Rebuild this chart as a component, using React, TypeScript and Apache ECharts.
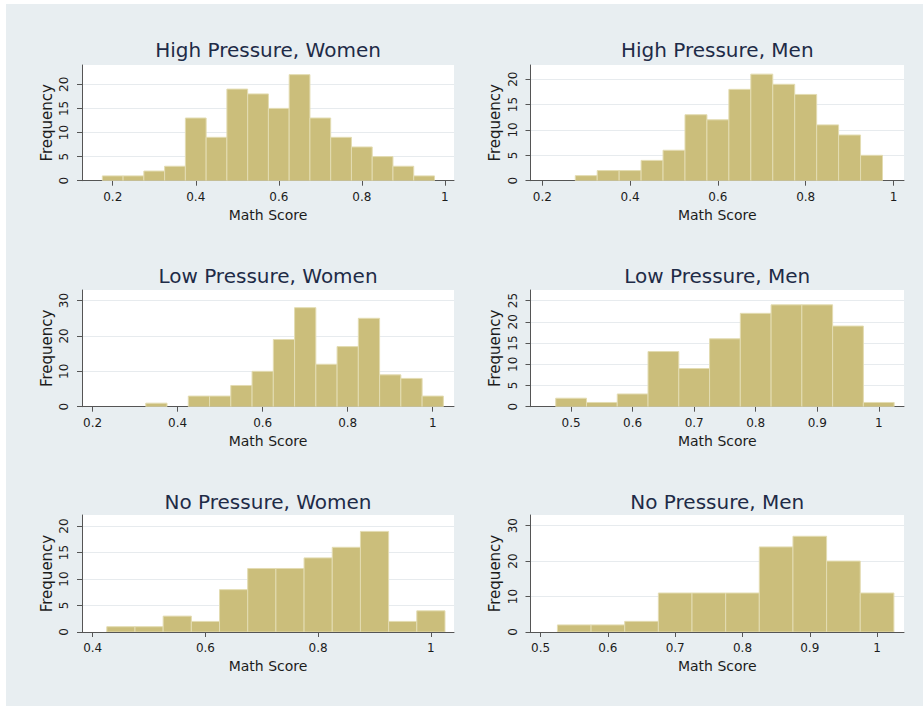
import React, { useEffect, useRef } from "react";
import * as echarts from "echarts";

// ---- data ----
const BIN_WIDTH = 0.05;

const panelTitles = [
  "High Pressure, Women",
  "High Pressure, Men",
  "Low Pressure, Women",
  "Low Pressure, Men",
  "No Pressure, Women",
  "No Pressure, Men",
];

// first bin's lower edge for each panel
const firstBinEdges = [0.175, 0.275, 0.325, 0.475, 0.425, 0.525];

const highPressureWomen = [1, 1, 2, 3, 13, 9, 19, 18, 15, 22, 13, 9, 7, 5, 3, 1];
const highPressureMen = [1, 2, 2, 4, 6, 13, 12, 18, 21, 19, 17, 11, 9, 5];
const lowPressureWomen = [1, 0, 3, 3, 6, 10, 19, 28, 12, 17, 25, 9, 8, 3];
const lowPressureMen = [2, 1, 3, 13, 9, 16, 22, 24, 24, 19, 1];
const noPressureWomen = [1, 1, 3, 2, 8, 12, 12, 14, 16, 19, 2, 4];
const noPressureMen = [2, 2, 3, 11, 11, 11, 24, 27, 20, 11];

const panelCounts = [
  highPressureWomen,
  highPressureMen,
  lowPressureWomen,
  lowPressureMen,
  noPressureWomen,
  noPressureMen,
];

const xTickLabels = [
  [0.2, 0.4, 0.6, 0.8, 1],
  [0.2, 0.4, 0.6, 0.8, 1],
  [0.2, 0.4, 0.6, 0.8, 1],
  [0.5, 0.6, 0.7, 0.8, 0.9, 1],
  [0.4, 0.6, 0.8, 1],
  [0.5, 0.6, 0.7, 0.8, 0.9, 1],
];
const yTickLabels = [
  [0, 5, 10, 15, 20],
  [0, 5, 10, 15, 20],
  [0, 10, 20, 30],
  [0, 5, 10, 15, 20, 25],
  [0, 5, 10, 15, 20],
  [0, 10, 20, 30],
];
const yIntervals = [5, 5, 10, 5, 5, 10];

// axis extents (scale ranges)
const xRanges = [
  [0.126, 1.022],
  [0.173, 1.024],
  [0.175, 1.05],
  [0.434, 1.041],
  [0.381, 1.041],
  [0.485, 1.04],
];
const yMaxes = [24, 22.8, 33, 27.5, 22.1, 33];

// ---- layout ----
const COLS = [
  { left: 82, width: 372 },
  { left: 530.5, width: 373.5 },
];
const ROWS = [
  { top: 65, height: 115.7, titleY: 50 },
  { top: 290, height: 116.7, titleY: 275.5 },
  { top: 515, height: 117, titleY: 502 },
];

const FONT = "DejaVu Sans";
const BAR_FILL = "#cbbe7b";
const BAR_STROKE = "#e3dcb2";
const AXIS_COLOR = "#555555";
const TEXT_COLOR = "#1c1c1c";
const TITLE_COLOR = "#1e2b47";
const BG = "#e8eef1";

export default function App() {
  const ref = useRef<HTMLDivElement>(null);

  useEffect(() => {
    if (!ref.current) return;
    const chart = echarts.init(ref.current, undefined, { renderer: "svg" });

    const grids: any[] = [];
    const xAxes: any[] = [];
    const yAxes: any[] = [];
    const series: any[] = [];
    const graphics: any[] = [
      { type: "rect", shape: { x: 0, y: 0, width: 6, height: 708 }, style: { fill: "#ffffff" }, silent: true },
      { type: "rect", shape: { x: 0, y: 0, width: 923, height: 4 }, style: { fill: "#ffffff" }, silent: true },
      { type: "rect", shape: { x: 0, y: 706, width: 923, height: 2 }, style: { fill: "#ffffff" }, silent: true },
    ];

    for (let i = 0; i < 6; i++) {
      const col = COLS[i % 2];
      const row = ROWS[Math.floor(i / 2)];
      grids.push({
        left: col.left,
        top: row.top,
        width: col.width,
        height: row.height,
        show: true,
        backgroundColor: "#ffffff",
        borderWidth: 0,
      });
      xAxes.push({
        type: "value",
        gridIndex: i,
        min: xRanges[i][0],
        max: xRanges[i][1],
        name: "Math Score",
        nameLocation: "middle",
        nameGap: 27,
        nameTextStyle: { fontFamily: FONT, fontSize: 14, color: TEXT_COLOR },
        axisLine: { show: true, onZero: false, lineStyle: { color: AXIS_COLOR, width: 1 } },
        axisTick: { show: true, length: 5, lineStyle: { color: AXIS_COLOR }, customValues: xTickLabels[i] },
        axisLabel: {
          fontFamily: FONT,
          fontSize: 12,
          color: TEXT_COLOR,
          margin: 10,
          customValues: xTickLabels[i],
        },
        splitLine: { show: false },
      });
      yAxes.push({
        type: "value",
        gridIndex: i,
        min: 0,
        max: yMaxes[i],
        interval: yIntervals[i],
        name: "Frequency",
        nameLocation: "middle",
        nameGap: 28,
        nameTextStyle: { fontFamily: FONT, fontSize: 15, color: TEXT_COLOR },
        axisLine: { show: true, lineStyle: { color: AXIS_COLOR, width: 1 } },
        axisTick: { show: true, length: 5, lineStyle: { color: AXIS_COLOR }, customValues: yTickLabels[i] },
        axisLabel: {
          fontFamily: FONT,
          fontSize: 12,
          color: TEXT_COLOR,
          rotate: 90,
          margin: 12,
          customValues: yTickLabels[i],
        },
        splitLine: { show: true, lineStyle: { color: "#e7ebee", width: 1 } },
      });

      const counts = panelCounts[i];
      const data = counts.map((c, k) => {
        const x0 = firstBinEdges[i] + k * BIN_WIDTH;
        return [x0, x0 + BIN_WIDTH, c];
      });
      series.push({
        type: "custom",
        xAxisIndex: i,
        yAxisIndex: i,
        data,
        encode: { x: [0, 1], y: 2 },
        clip: true,
        renderItem: (params: any, api: any) => {
          const h = api.value(2);
          if (!h) return null;
          const p0 = api.coord([api.value(0), h]);
          const p1 = api.coord([api.value(1), 0]);
          return {
            type: "rect",
            shape: { x: p0[0], y: p0[1], width: p1[0] - p0[0], height: p1[1] - p0[1] },
            style: { fill: BAR_FILL, stroke: BAR_STROKE, lineWidth: 1 },
          };
        },
      });

      graphics.push({
        type: "text",
        x: col.left + col.width / 2,
        y: row.titleY,
        style: {
          text: panelTitles[i],
          fontFamily: FONT,
          fontSize: 20,
          fill: TITLE_COLOR,
          align: "center",
          verticalAlign: "middle",
        },
        silent: true,
      });
    }

    chart.setOption({
      animation: false,
      backgroundColor: BG,
      grid: grids,
      xAxis: xAxes,
      yAxis: yAxes,
      series,
      graphic: graphics,
    });

    return () => chart.dispose();
  }, []);

  return (
    <div
      ref={ref}
      style={{ position: "fixed", left: 0, top: 0, width: 923, height: 708 }}
    />
  );
}
